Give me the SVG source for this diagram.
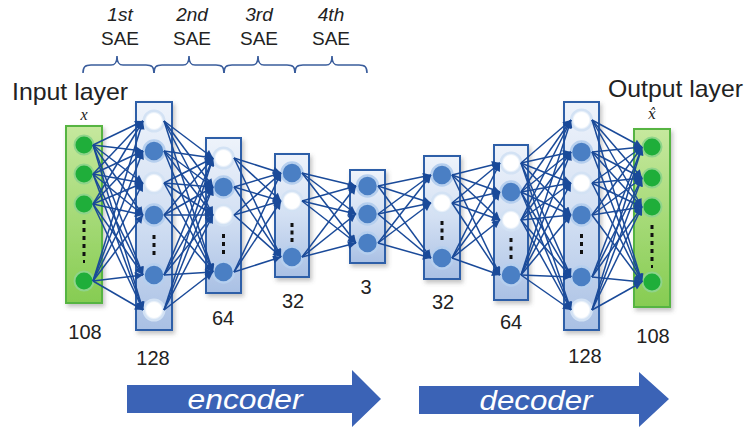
<svg xmlns="http://www.w3.org/2000/svg" width="746" height="427" viewBox="0 0 746 427">
<style>
.lbl{font-family:"Liberation Sans",Arial,sans-serif;fill:#222;}
.num{font-family:"Liberation Sans",Arial,sans-serif;font-size:20px;fill:#222;text-anchor:middle;}
.sae{font-family:"Liberation Sans",Arial,sans-serif;font-size:19px;fill:#222;text-anchor:middle;}
.box{fill:url(#boxGrad);stroke:#2f5ea8;stroke-width:2;filter:url(#sh);}
.gbox{fill:url(#greenGrad);stroke:#56b443;stroke-width:2;filter:url(#sh);}
.bn{fill:#4a7fc4;stroke:#b6cfee;stroke-width:2.5;}
.wn{fill:url(#whiteGrad);stroke:#d3e2f4;stroke-width:2;}
.gn{fill:#1fae3a;stroke:#8fd48a;stroke-width:2;}
.dot{fill:#111;}
.brace{fill:none;stroke:#3a5d9c;stroke-width:1.6;}
#connectors line{stroke:#1a4a99;stroke-width:1.5;marker-end:url(#ah);}
.arr{fill:#3b63b6;}
.arrtxt{font-family:"Liberation Sans",Arial,sans-serif;font-style:italic;font-size:27px;fill:#fff;text-anchor:middle;}
</style>
<defs>
<linearGradient id="boxGrad" x1="0" y1="0" x2="0" y2="1">
<stop offset="0" stop-color="#eef3fb"/><stop offset="0.5" stop-color="#d3e0f3"/><stop offset="1" stop-color="#a9c0e4"/>
</linearGradient>
<linearGradient id="greenGrad" x1="0" y1="0" x2="0" y2="1">
<stop offset="0" stop-color="#c6e89e"/><stop offset="1" stop-color="#86cc52"/>
</linearGradient>
<radialGradient id="whiteGrad" cx="0.5" cy="0.5" r="0.5">
<stop offset="0" stop-color="#ffffff"/><stop offset="0.7" stop-color="#ffffff"/><stop offset="1" stop-color="#c4d8f0"/>
</radialGradient>
<filter id="sh" x="-30%" y="-10%" width="160%" height="125%">
<feDropShadow dx="2" dy="3" stdDeviation="2" flood-color="#555" flood-opacity="0.35"/>
</filter>
<marker id="ah" viewBox="0 0 10 10" refX="10" refY="5" markerWidth="9" markerHeight="8" markerUnits="userSpaceOnUse" orient="auto">
<path d="M0,0 L10,5 L0,10 z" fill="#1a4a99"/>
</marker>
</defs>
<rect width="746" height="427" fill="#fff"/>

<g id="sae-labels">
<text class="sae" x="120" y="21" font-style="italic">1st</text>
<text class="sae" x="120" y="45">SAE</text>
<text class="sae" x="192" y="21" font-style="italic">2nd</text>
<text class="sae" x="192" y="45">SAE</text>
<text class="sae" x="259" y="21" font-style="italic">3rd</text>
<text class="sae" x="259" y="45">SAE</text>
<text class="sae" x="331" y="21" font-style="italic">4th</text>
<text class="sae" x="331" y="45">SAE</text>
<path class="brace" d="M83,73 C83,67 85,65 91,65 L111,65 C115,65 117,63 117,56 C117,63 119,65 123,65 L146,65 C152,65 154,67 154,73"/>
<path class="brace" d="M154,73 C154,67 156,65 162,65 L183,65 C187,65 189,63 189,56 C189,63 191,65 195,65 L216,65 C222,65 224,67 224,73"/>
<path class="brace" d="M224,73 C224,67 226,65 232,65 L252,65 C256,65 258,63 258,56 C258,63 260,65 264,65 L287,65 C293,65 295,67 295,73"/>
<path class="brace" d="M295,73 C295,67 297,65 303,65 L326,65 C330,65 332,63 332,56 C332,63 334,65 338,65 L359,65 C365,65 367,67 367,73"/>
</g>

<text class="lbl" x="12" y="100" font-size="24" textLength="116" lengthAdjust="spacingAndGlyphs">Input layer</text>
<text class="lbl" x="608" y="97" font-size="24" textLength="135" lengthAdjust="spacingAndGlyphs">Output layer</text>
<text x="84" y="120" font-family="'Liberation Serif',serif" font-style="italic" font-size="16" fill="#222" text-anchor="middle">x</text>
<text x="652" y="119" font-family="'DejaVu Serif',serif" font-style="italic" font-size="14" fill="#222" text-anchor="middle">x̂</text>

<g id="layer-input">
<rect class="gbox" x="66" y="126" width="36" height="177"/>
<circle class="gn" cx="84" cy="145" r="9.5"/><circle class="gn" cx="84" cy="174" r="9.5"/><circle class="gn" cx="84" cy="204" r="9.5"/><circle class="gn" cx="84" cy="281" r="9.5"/>
<rect class="dot" x="82.5" y="220" width="3" height="4"/><rect class="dot" x="82.5" y="228" width="3" height="4"/><rect class="dot" x="82.5" y="236" width="3" height="4"/><rect class="dot" x="82.5" y="244" width="3" height="4"/><rect class="dot" x="82.5" y="252" width="3" height="4"/><rect class="dot" x="83" y="260" width="2" height="3"/>
<text class="num" x="85" y="339">108</text>
</g>
<g id="layer-enc128">
<rect class="box" x="136" y="102" width="36" height="228"/>
<circle class="wn" cx="154" cy="121" r="10.5"/><circle class="bn" cx="154" cy="151" r="10.5"/><circle class="wn" cx="154" cy="183" r="10.5"/><circle class="bn" cx="154" cy="215" r="10.5"/><circle class="bn" cx="154" cy="275" r="10.5"/><circle class="wn" cx="154" cy="310" r="10.5"/>
<rect class="dot" x="152.5" y="235" width="3" height="4"/><rect class="dot" x="152.5" y="243" width="3" height="4"/><rect class="dot" x="152.5" y="251" width="3" height="4"/>
<text class="num" x="153" y="365">128</text>
</g>
<g id="layer-enc64">
<rect class="box" x="206" y="138" width="35" height="155"/>
<circle class="wn" cx="223.5" cy="158" r="10.5"/><circle class="bn" cx="223.5" cy="187" r="10.5"/><circle class="wn" cx="223.5" cy="215" r="10.5"/><circle class="bn" cx="223.5" cy="272" r="10.5"/>
<rect class="dot" x="222" y="234" width="3" height="4"/><rect class="dot" x="222" y="242" width="3" height="4"/><rect class="dot" x="222" y="250" width="3" height="4"/>
<text class="num" x="223" y="325">64</text>
</g>
<g id="layer-enc32">
<rect class="box" x="275" y="154" width="34" height="123"/>
<circle class="bn" cx="292" cy="173" r="10.5"/><circle class="wn" cx="292" cy="201" r="10.5"/><circle class="bn" cx="292" cy="257" r="10.5"/>
<rect class="dot" x="290.5" y="223" width="3" height="4"/><rect class="dot" x="290.5" y="230.5" width="3" height="4"/><rect class="dot" x="290.5" y="238" width="3" height="4"/>
<text class="num" x="293" y="308">32</text>
</g>
<g id="layer-code3">
<rect class="box" x="350" y="170" width="35" height="93"/>
<circle class="bn" cx="367.5" cy="186" r="10.5"/><circle class="bn" cx="367.5" cy="214" r="10.5"/><circle class="bn" cx="367.5" cy="243" r="10.5"/>
<text class="num" x="366" y="294">3</text>
</g>
<g id="layer-dec32">
<rect class="box" x="424" y="156" width="36" height="123"/>
<circle class="bn" cx="442" cy="175" r="10.5"/><circle class="wn" cx="442" cy="203" r="10.5"/><circle class="bn" cx="442" cy="258" r="10.5"/>
<rect class="dot" x="440.5" y="221" width="3" height="4"/><rect class="dot" x="440.5" y="228.5" width="3" height="4"/><rect class="dot" x="440.5" y="236" width="3" height="4"/>
<text class="num" x="443" y="309">32</text>
</g>
<g id="layer-dec64">
<rect class="box" x="494" y="145" width="34" height="155"/>
<circle class="wn" cx="511" cy="163" r="10.5"/><circle class="bn" cx="511" cy="192" r="10.5"/><circle class="wn" cx="511" cy="220" r="10.5"/><circle class="bn" cx="511" cy="275" r="10.5"/>
<rect class="dot" x="509.5" y="238" width="3" height="4"/><rect class="dot" x="509.5" y="246.5" width="3" height="4"/><rect class="dot" x="509.5" y="255" width="3" height="4"/>
<text class="num" x="511" y="329">64</text>
</g>
<g id="layer-dec128">
<rect class="box" x="564" y="102" width="35" height="228"/>
<circle class="wn" cx="581.5" cy="120" r="10.5"/><circle class="bn" cx="581.5" cy="152" r="10.5"/><circle class="wn" cx="581.5" cy="183" r="10.5"/><circle class="bn" cx="581.5" cy="215" r="10.5"/><circle class="bn" cx="581.5" cy="277" r="10.5"/><circle class="wn" cx="581.5" cy="310" r="10.5"/>
<rect class="dot" x="580" y="234" width="3" height="4"/><rect class="dot" x="580" y="242" width="3" height="4"/><rect class="dot" x="580" y="250" width="3" height="4"/>
<text class="num" x="585" y="363">128</text>
</g>
<g id="layer-output">
<rect class="gbox" x="634" y="129" width="36" height="178"/>
<circle class="gn" cx="652" cy="147" r="9.5"/><circle class="gn" cx="652" cy="178" r="9.5"/><circle class="gn" cx="652" cy="207" r="9.5"/><circle class="gn" cx="652" cy="282" r="9.5"/>
<rect class="dot" x="650.5" y="225" width="3" height="4"/><rect class="dot" x="650.5" y="233" width="3" height="4"/><rect class="dot" x="650.5" y="241" width="3" height="4"/><rect class="dot" x="650.5" y="249" width="3" height="4"/><rect class="dot" x="650.5" y="257" width="3" height="4"/><rect class="dot" x="651" y="265" width="2" height="3"/>
<text class="num" x="653" y="343">108</text>
</g>

<g id="connectors">
<line x1="93" y1="145" x2="143" y2="121"/><line x1="93" y1="145" x2="143" y2="151"/><line x1="93" y1="145" x2="143" y2="183"/><line x1="93" y1="145" x2="143" y2="215"/><line x1="93" y1="145" x2="143" y2="275"/><line x1="93" y1="145" x2="143" y2="310"/>
<line x1="93" y1="174" x2="143" y2="121"/><line x1="93" y1="174" x2="143" y2="151"/><line x1="93" y1="174" x2="143" y2="183"/><line x1="93" y1="174" x2="143" y2="215"/><line x1="93" y1="174" x2="143" y2="275"/><line x1="93" y1="174" x2="143" y2="310"/>
<line x1="93" y1="204" x2="143" y2="121"/><line x1="93" y1="204" x2="143" y2="151"/><line x1="93" y1="204" x2="143" y2="183"/><line x1="93" y1="204" x2="143" y2="215"/><line x1="93" y1="204" x2="143" y2="275"/><line x1="93" y1="204" x2="143" y2="310"/>
<line x1="93" y1="281" x2="143" y2="121"/><line x1="93" y1="281" x2="143" y2="151"/><line x1="93" y1="281" x2="143" y2="183"/><line x1="93" y1="281" x2="143" y2="215"/><line x1="93" y1="281" x2="143" y2="275"/><line x1="93" y1="281" x2="143" y2="310"/>
<line x1="164" y1="121" x2="213" y2="158"/><line x1="164" y1="121" x2="213" y2="187"/><line x1="164" y1="121" x2="213" y2="215"/><line x1="164" y1="121" x2="213" y2="272"/>
<line x1="164" y1="151" x2="213" y2="158"/><line x1="164" y1="151" x2="213" y2="187"/><line x1="164" y1="151" x2="213" y2="215"/><line x1="164" y1="151" x2="213" y2="272"/>
<line x1="164" y1="183" x2="213" y2="158"/><line x1="164" y1="183" x2="213" y2="187"/><line x1="164" y1="183" x2="213" y2="215"/><line x1="164" y1="183" x2="213" y2="272"/>
<line x1="164" y1="215" x2="213" y2="158"/><line x1="164" y1="215" x2="213" y2="187"/><line x1="164" y1="215" x2="213" y2="215"/><line x1="164" y1="215" x2="213" y2="272"/>
<line x1="164" y1="275" x2="213" y2="158"/><line x1="164" y1="275" x2="213" y2="187"/><line x1="164" y1="275" x2="213" y2="215"/><line x1="164" y1="275" x2="213" y2="272"/>
<line x1="164" y1="310" x2="213" y2="158"/><line x1="164" y1="310" x2="213" y2="187"/><line x1="164" y1="310" x2="213" y2="215"/><line x1="164" y1="310" x2="213" y2="272"/>
<line x1="234" y1="158" x2="281" y2="173"/><line x1="234" y1="158" x2="281" y2="201"/><line x1="234" y1="158" x2="281" y2="257"/>
<line x1="234" y1="187" x2="281" y2="173"/><line x1="234" y1="187" x2="281" y2="201"/><line x1="234" y1="187" x2="281" y2="257"/>
<line x1="234" y1="215" x2="281" y2="173"/><line x1="234" y1="215" x2="281" y2="201"/><line x1="234" y1="215" x2="281" y2="257"/>
<line x1="234" y1="272" x2="281" y2="173"/><line x1="234" y1="272" x2="281" y2="201"/><line x1="234" y1="272" x2="281" y2="257"/>
<line x1="302" y1="173" x2="356" y2="186"/><line x1="302" y1="173" x2="356" y2="214"/><line x1="302" y1="173" x2="356" y2="243"/>
<line x1="302" y1="201" x2="356" y2="186"/><line x1="302" y1="201" x2="356" y2="214"/><line x1="302" y1="201" x2="356" y2="243"/>
<line x1="302" y1="257" x2="356" y2="186"/><line x1="302" y1="257" x2="356" y2="214"/><line x1="302" y1="257" x2="356" y2="243"/>
<line x1="378" y1="186" x2="431" y2="175"/><line x1="378" y1="186" x2="431" y2="203"/><line x1="378" y1="186" x2="431" y2="258"/>
<line x1="378" y1="214" x2="431" y2="175"/><line x1="378" y1="214" x2="431" y2="203"/><line x1="378" y1="214" x2="431" y2="258"/>
<line x1="378" y1="243" x2="431" y2="175"/><line x1="378" y1="243" x2="431" y2="203"/><line x1="378" y1="243" x2="431" y2="258"/>
<line x1="452" y1="175" x2="500" y2="163"/><line x1="452" y1="175" x2="500" y2="192"/><line x1="452" y1="175" x2="500" y2="220"/><line x1="452" y1="175" x2="500" y2="275"/>
<line x1="452" y1="203" x2="500" y2="163"/><line x1="452" y1="203" x2="500" y2="192"/><line x1="452" y1="203" x2="500" y2="220"/><line x1="452" y1="203" x2="500" y2="275"/>
<line x1="452" y1="258" x2="500" y2="163"/><line x1="452" y1="258" x2="500" y2="192"/><line x1="452" y1="258" x2="500" y2="220"/><line x1="452" y1="258" x2="500" y2="275"/>
<line x1="521" y1="163" x2="571" y2="120"/><line x1="521" y1="163" x2="571" y2="152"/><line x1="521" y1="163" x2="571" y2="183"/><line x1="521" y1="163" x2="571" y2="215"/><line x1="521" y1="163" x2="571" y2="277"/><line x1="521" y1="163" x2="571" y2="310"/>
<line x1="521" y1="192" x2="571" y2="120"/><line x1="521" y1="192" x2="571" y2="152"/><line x1="521" y1="192" x2="571" y2="183"/><line x1="521" y1="192" x2="571" y2="215"/><line x1="521" y1="192" x2="571" y2="277"/><line x1="521" y1="192" x2="571" y2="310"/>
<line x1="521" y1="220" x2="571" y2="120"/><line x1="521" y1="220" x2="571" y2="152"/><line x1="521" y1="220" x2="571" y2="183"/><line x1="521" y1="220" x2="571" y2="215"/><line x1="521" y1="220" x2="571" y2="277"/><line x1="521" y1="220" x2="571" y2="310"/>
<line x1="521" y1="275" x2="571" y2="120"/><line x1="521" y1="275" x2="571" y2="152"/><line x1="521" y1="275" x2="571" y2="183"/><line x1="521" y1="275" x2="571" y2="215"/><line x1="521" y1="275" x2="571" y2="277"/><line x1="521" y1="275" x2="571" y2="310"/>
<line x1="592" y1="120" x2="642" y2="147"/><line x1="592" y1="120" x2="642" y2="178"/><line x1="592" y1="120" x2="642" y2="207"/><line x1="592" y1="120" x2="642" y2="282"/>
<line x1="592" y1="152" x2="642" y2="147"/><line x1="592" y1="152" x2="642" y2="178"/><line x1="592" y1="152" x2="642" y2="207"/><line x1="592" y1="152" x2="642" y2="282"/>
<line x1="592" y1="183" x2="642" y2="147"/><line x1="592" y1="183" x2="642" y2="178"/><line x1="592" y1="183" x2="642" y2="207"/><line x1="592" y1="183" x2="642" y2="282"/>
<line x1="592" y1="215" x2="642" y2="147"/><line x1="592" y1="215" x2="642" y2="178"/><line x1="592" y1="215" x2="642" y2="207"/><line x1="592" y1="215" x2="642" y2="282"/>
<line x1="592" y1="277" x2="642" y2="147"/><line x1="592" y1="277" x2="642" y2="178"/><line x1="592" y1="277" x2="642" y2="207"/><line x1="592" y1="277" x2="642" y2="282"/>
<line x1="592" y1="310" x2="642" y2="147"/><line x1="592" y1="310" x2="642" y2="178"/><line x1="592" y1="310" x2="642" y2="207"/><line x1="592" y1="310" x2="642" y2="282"/>
</g>

<g id="encoder-arrow">
<polygon class="arr" points="127,385 352,385 352,370 381,399 352,427 352,413 127,413"/>
<text class="arrtxt" x="245" y="409" textLength="115" lengthAdjust="spacingAndGlyphs">encoder</text>
</g>
<g id="decoder-arrow">
<polygon class="arr" points="419,386 639,386 639,372 669,399 639,427 639,414 419,414"/>
<text class="arrtxt" x="536" y="410" textLength="113" lengthAdjust="spacingAndGlyphs">decoder</text>
</g>
</svg>
